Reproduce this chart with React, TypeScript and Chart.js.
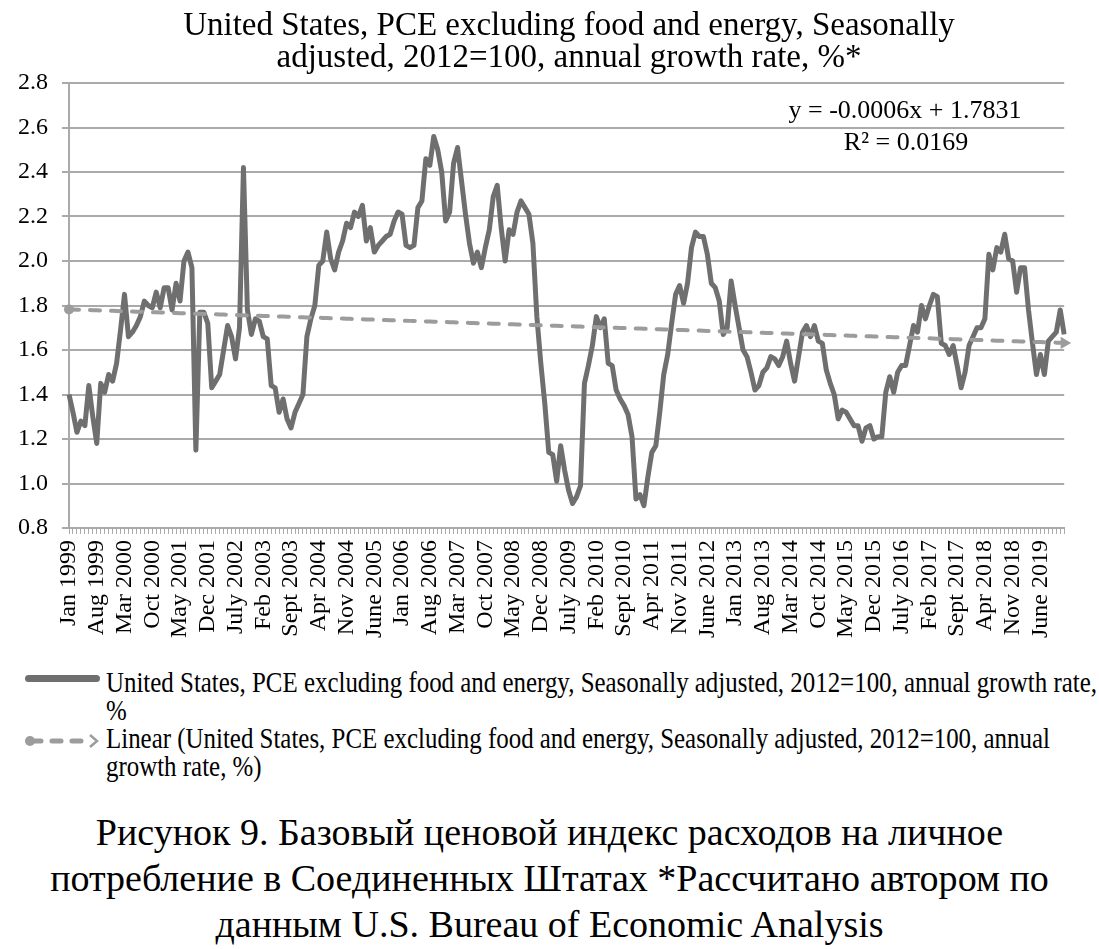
import React, { useEffect, useRef, useMemo } from "react";
import { Chart, registerables } from "chart.js";

Chart.register(...registerables);

// ---------- data ----------
const START_YEAR = 1999;
const MONTH_NAMES = ["Jan", "Feb", "Mar", "Apr", "May", "June", "July", "Aug", "Sept", "Oct", "Nov", "Dec"];
const LABEL_EVERY = 7;

const growth1999to2003 = [
  1.40, 1.32, 1.23, 1.28, 1.26, 1.44, 1.30, 1.18, 1.45, 1.41,
  1.49, 1.46, 1.54, 1.69, 1.85, 1.66, 1.68, 1.71, 1.75, 1.82,
  1.80, 1.79, 1.86, 1.79, 1.88, 1.88, 1.78, 1.90, 1.82, 2.00,
  2.04, 1.97, 1.15, 1.77, 1.77, 1.72, 1.43, 1.46, 1.49, 1.60,
  1.71, 1.66, 1.56, 1.70, 2.42, 1.78, 1.67, 1.74, 1.73, 1.66,
  1.65, 1.44, 1.43, 1.32, 1.38, 1.29, 1.25, 1.32, 1.36, 1.40,
];
const growth2004to2008 = [
  1.66, 1.74, 1.80, 1.98, 2.00, 2.13, 2.01, 1.96, 2.04, 2.09,
  2.17, 2.15, 2.22, 2.20, 2.25, 2.09, 2.15, 2.04, 2.07, 2.09,
  2.11, 2.12, 2.18, 2.22, 2.21, 2.07, 2.06, 2.07, 2.24, 2.27,
  2.46, 2.43, 2.56, 2.50, 2.40, 2.18, 2.22, 2.44, 2.51, 2.36,
  2.21, 2.08, 1.99, 2.04, 1.97, 2.06, 2.14, 2.29, 2.34, 2.15,
  2.00, 2.14, 2.12, 2.22, 2.27, 2.24, 2.21, 2.08, 1.75, 1.54,
];
const growth2009to2013 = [
  1.36, 1.14, 1.13, 1.01, 1.17, 1.06, 0.97, 0.91, 0.94, 0.99,
  1.45, 1.53, 1.62, 1.75, 1.70, 1.74, 1.54, 1.53, 1.42, 1.38,
  1.35, 1.31, 1.21, 0.93, 0.95, 0.90, 1.03, 1.14, 1.17, 1.32,
  1.49, 1.58, 1.72, 1.85, 1.89, 1.81, 1.90, 2.06, 2.13, 2.11,
  2.11, 2.03, 1.90, 1.88, 1.82, 1.67, 1.70, 1.91, 1.80, 1.70,
  1.60, 1.57, 1.50, 1.42, 1.44, 1.50, 1.52, 1.57, 1.56, 1.53,
];
const growth2014to2019 = [
  1.57, 1.64, 1.54, 1.46, 1.57, 1.68, 1.71, 1.66, 1.71, 1.64,
  1.63, 1.51, 1.45, 1.40, 1.29, 1.33, 1.32, 1.29, 1.26, 1.26,
  1.19, 1.25, 1.26, 1.20, 1.21, 1.21, 1.41, 1.48, 1.41, 1.50,
  1.53, 1.53, 1.62, 1.71, 1.68, 1.80, 1.74, 1.80, 1.85, 1.84,
  1.63, 1.62, 1.58, 1.62, 1.53, 1.43, 1.50, 1.62, 1.66, 1.70,
  1.70, 1.74, 2.03, 1.96, 2.06, 2.04, 2.12, 2.01, 2.00, 1.86,
  1.97, 1.97, 1.78, 1.63, 1.49, 1.58, 1.49, 1.64, 1.66, 1.68,
  1.78, 1.67,
];

const TREND_SLOPE = -0.0006;
const TREND_INTERCEPT = 1.7831;
const R_SQUARED = "0.0169";

const Y_MIN = 0.8;
const Y_MAX = 2.8;
const Y_STEP = 0.2;

const TITLE_LINES = [
  "United States, PCE excluding food and energy, Seasonally",
  "adjusted, 2012=100, annual growth rate, %*",
];
const LEGEND_MAIN_LINES = [
  "United States, PCE excluding food and energy, Seasonally adjusted, 2012=100, annual growth rate,",
  "%",
];
const LEGEND_TREND_LINES = [
  "Linear (United States, PCE excluding food and energy, Seasonally adjusted, 2012=100, annual",
  "growth rate, %)",
];
const CAPTION_LINES = [
  "Рисунок 9. Базовый ценовой индекс расходов на личное",
  "потребление в Соединенных Штатах *Рассчитано автором по",
  "данным U.S. Bureau of Economic Analysis",
];

// ---------- helpers ----------
const SERIF = '"Liberation Serif", "Times New Roman", serif';
const MAIN_COLOR = "#6f6f6f";
const TREND_COLOR = "#9c9c9c";
const GRID_COLOR = "#aaaaaa";

function measure(text: string, font: string): number {
  const c = document.createElement("canvas").getContext("2d");
  if (!c) return 1;
  c.font = font;
  return c.measureText(text).width;
}

const CANVAS_W = 1099;
const CANVAS_H = 650;

export default function App() {
  const canvasRef = useRef<HTMLCanvasElement | null>(null);

  const values = useMemo(
    () => [...growth1999to2003, ...growth2004to2008, ...growth2009to2013, ...growth2014to2019],
    []
  );
  const labels = useMemo(
    () => values.map((_, i) => `${MONTH_NAMES[i % 12]} ${START_YEAR + Math.floor(i / 12)}`),
    [values]
  );
  const trend = useMemo(() => values.map((_, i) => TREND_INTERCEPT + TREND_SLOPE * (i + 1)), [values]);

  useEffect(() => {
    const canvas = canvasRef.current;
    if (!canvas) return;
    const n = values.length;

    const overlay = {
      id: "overlay",
      afterDraw(chart: any) {
        const ctx = chart.ctx as CanvasRenderingContext2D;
        ctx.save();
        ctx.fillStyle = "#000";
        ctx.textAlign = "center";
        ctx.textBaseline = "alphabetic";
        ctx.font = `33px ${SERIF}`;
        ctx.fillText(TITLE_LINES[0], 569, 35);
        ctx.fillText(TITLE_LINES[1], 569, 67);
        ctx.font = `26px ${SERIF}`;
        ctx.fillText(`y = ${TREND_SLOPE}x + ${TREND_INTERCEPT}`, 905, 118);
        ctx.fillText(`R² = ${R_SQUARED}`, 906, 150);
        ctx.restore();
      },
    };

    const chart = new Chart(canvas, {
      type: "line",
      data: {
        labels,
        datasets: [
          {
            label: LEGEND_TREND_LINES.join(" "),
            data: trend,
            borderColor: TREND_COLOR,
            backgroundColor: TREND_COLOR,
            borderWidth: 4,
            borderDash: [10, 11],
            borderCapStyle: "round",
            pointRadius: (c: any) => (c.dataIndex === 0 ? 5 : c.dataIndex === n - 1 ? 7 : 0),
            pointStyle: (c: any) => (c.dataIndex === n - 1 ? "triangle" : "circle"),
            rotation: 90,
            pointBackgroundColor: TREND_COLOR,
            pointBorderWidth: 0,
            tension: 0,
            fill: false,
            order: 0,
          } as any,
          {
            label: LEGEND_MAIN_LINES.join(" "),
            data: values,
            borderColor: MAIN_COLOR,
            backgroundColor: MAIN_COLOR,
            borderWidth: 5,
            borderJoinStyle: "round",
            pointRadius: 0,
            tension: 0,
            fill: false,
            order: 1,
          } as any,
        ],
      },
      options: {
        responsive: false,
        animation: false,
        devicePixelRatio: 1,
        layout: { padding: { top: 83, right: 10, left: 0, bottom: 0 } },
        plugins: {
          legend: { display: false },
          tooltip: { enabled: false },
          title: { display: false },
        },
        scales: {
          x: {
            type: "category",
            offset: false,
            grid: {
              drawOnChartArea: false,
              drawTicks: true,
              tickLength: 6,
              color: GRID_COLOR,
              lineWidth: 1,
            },
            border: { color: GRID_COLOR, width: 2 },
            ticks: {
              autoSkip: false,
              maxRotation: 90,
              minRotation: 90,
              padding: 6,
              color: "#000",
              font: { family: SERIF, size: 24 },
              callback: (_v: any, i: number) => (i % LABEL_EVERY === 0 ? labels[i] : ""),
            },
            afterFit: (s: any) => {
              s.height = CANVAS_H - 528;
            },
          },
          y: {
            min: Y_MIN,
            max: Y_MAX,
            ticks: {
              stepSize: Y_STEP,
              padding: 14,
              color: "#000",
              font: { family: SERIF, size: 24 },
              callback: (v: any) => Number(v).toFixed(1),
            },
            grid: { color: GRID_COLOR, lineWidth: 2, tickLength: 7 },
            border: { color: GRID_COLOR, width: 2 },
            afterFit: (s: any) => {
              s.width = 69;
            },
          },
        },
      } as any,
      plugins: [overlay],
    });
    return () => chart.destroy();
  }, [values, labels, trend]);

  // legend text scale (the legend text is condensed in the reference)
  const legendFont = `30px ${SERIF}`;
  const legendScale = useMemo(() => 991 / measure(LEGEND_MAIN_LINES[0], legendFont), []);
  const legendBaselineOffset = (28 - 1.107 * 30) / 2 + 0.891 * 30;

  const captionSize = useMemo(() => {
    const w = measure(CAPTION_LINES[1], `36px ${SERIF}`);
    return (36 * 999) / w;
  }, []);
  const captionLH = 46;
  const captionBaselineOffset = (captionLH - 1.107 * captionSize) / 2 + 0.891 * captionSize;

  const legendTextStyle: React.CSSProperties = {
    position: "absolute",
    left: 106,
    fontFamily: SERIF,
    fontSize: 30,
    lineHeight: "28px",
    whiteSpace: "nowrap",
    color: "#000",
    transform: `scaleX(${legendScale})`,
    transformOrigin: "left top",
  };

  return (
    <div
      style={{
        position: "absolute",
        left: 0,
        top: 0,
        width: 1099,
        height: 949,
        overflow: "hidden",
        background: "#fff",
      }}
    >
      <canvas ref={canvasRef} width={CANVAS_W} height={CANVAS_H} style={{ position: "absolute", left: 0, top: 0 }} />

      {/* legend */}
      <div
        style={{
          position: "absolute",
          left: 25,
          top: 675,
          width: 75,
          height: 7,
          borderRadius: 4,
          background: MAIN_COLOR,
        }}
      />
      <div style={{ ...legendTextStyle, top: 692 - legendBaselineOffset }}>
        {LEGEND_MAIN_LINES[0]}
        <br />
        {LEGEND_MAIN_LINES[1]}
      </div>

      <svg style={{ position: "absolute", left: 20, top: 730 }} width={84} height={24}>
        <circle cx={10} cy={11} r={5} fill={TREND_COLOR} />
        <line
          x1={12}
          y1={11}
          x2={70}
          y2={11}
          stroke={TREND_COLOR}
          strokeWidth={5}
          strokeDasharray="9 11"
          strokeLinecap="round"
        />
        <polyline points="70,5 77,11 70,17" fill="none" stroke={TREND_COLOR} strokeWidth={2.5} />
      </svg>
      <div style={{ ...legendTextStyle, top: 748 - legendBaselineOffset }}>
        {LEGEND_TREND_LINES[0]}
        <br />
        {LEGEND_TREND_LINES[1]}
      </div>

      {/* caption */}
      <div
        style={{
          position: "absolute",
          left: 0,
          width: 1099,
          top: 845 - captionBaselineOffset,
          textAlign: "center",
          fontFamily: SERIF,
          fontSize: captionSize,
          lineHeight: `${captionLH}px`,
          color: "#000",
          whiteSpace: "nowrap",
        }}
      >
        {CAPTION_LINES.map((l, i) => (
          <div key={i}>{l}</div>
        ))}
      </div>
    </div>
  );
}
